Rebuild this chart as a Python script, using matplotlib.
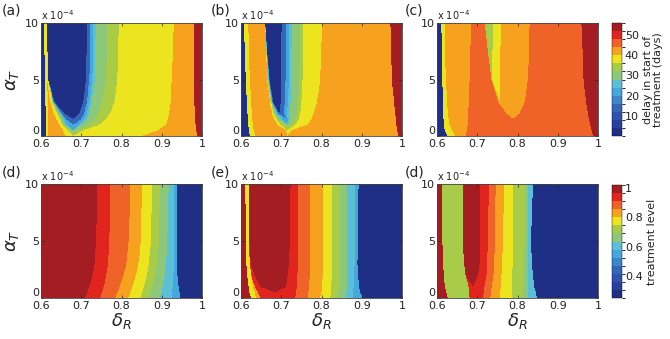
import numpy as np
import matplotlib
matplotlib.use("Agg")
import matplotlib.pyplot as plt
from matplotlib.colors import ListedColormap, BoundaryNorm
from matplotlib.cm import ScalarMappable

# ---------------- data ----------------
# alpha_T key rows (units of 1e-4) at which band boundaries (delta_R) were read
alpha_keys = [0, 0.5, 1, 1.5, 2, 3, 5, 10]

# Panel (a): delay in start of treatment (days); boundaries left->right, value of band to the right
a_start = 2
a_bounds = [
    [0.613, 0.613, 0.613, 0.612, 0.612, 0.611, 0.610, 0.607],
    [0.616, 0.617, 0.617, 0.617, 0.617, 0.617, 0.615, 0.612],
    [0.660, 0.655, 0.645, 0.638, 0.632, 0.623, 0.615, 0.612],
    [0.680, 0.668, 0.652, 0.648, 0.640, 0.628, 0.618, 0.614],
    [0.680, 0.675, 0.655, 0.651, 0.643, 0.629, 0.618, 0.614],
    [0.680, 0.680, 0.660, 0.654, 0.646, 0.630, 0.618, 0.614],
    [0.680, 0.680, 0.665, 0.657, 0.649, 0.631, 0.618, 0.614],
    [0.680, 0.680, 0.680, 0.662, 0.652, 0.632, 0.618, 0.614],
    [0.680, 0.680, 0.680, 0.680, 0.658, 0.634, 0.618, 0.614],
    [0.680, 0.680, 0.680, 0.680, 0.695, 0.705, 0.712, 0.714],
    [0.680, 0.680, 0.680, 0.700, 0.707, 0.714, 0.720, 0.722],
    [0.680, 0.680, 0.695, 0.708, 0.714, 0.720, 0.728, 0.730],
    [0.680, 0.680, 0.700, 0.714, 0.720, 0.726, 0.734, 0.736],
    [0.680, 0.690, 0.720, 0.735, 0.742, 0.752, 0.762, 0.765],
    [0.680, 0.705, 0.745, 0.760, 0.772, 0.782, 0.790, 0.793],
    [0.850, 0.890, 0.910, 0.915, 0.918, 0.922, 0.925, 0.930],
    [0.988, 0.986, 0.984, 0.983, 0.982, 0.981, 0.980, 0.979],
]
a_values = [38, 42, 38, 34, 30, 26, 22, 14, 2, 14, 22, 26, 30, 34, 38, 42, 54]

# Panel (b)
b_start = 2
b_bounds = [
    [0.622, 0.620, 0.618, 0.617, 0.616, 0.614, 0.612, 0.607],
    [0.635, 0.632, 0.630, 0.628, 0.627, 0.625, 0.622, 0.618],
    [0.715, 0.712, 0.690, 0.682, 0.677, 0.672, 0.665, 0.660],
    [0.715, 0.715, 0.698, 0.688, 0.681, 0.674, 0.666, 0.660],
    [0.715, 0.715, 0.712, 0.692, 0.684, 0.675, 0.667, 0.660],
    [0.715, 0.715, 0.715, 0.697, 0.687, 0.676, 0.668, 0.660],
    [0.715, 0.715, 0.715, 0.702, 0.690, 0.677, 0.669, 0.660],
    [0.715, 0.715, 0.715, 0.715, 0.693, 0.678, 0.670, 0.660],
    [0.715, 0.715, 0.715, 0.715, 0.695, 0.680, 0.671, 0.660],
    [0.715, 0.715, 0.715, 0.715, 0.695, 0.699, 0.700, 0.701],
    [0.715, 0.715, 0.715, 0.715, 0.706, 0.709, 0.711, 0.712],
    [0.715, 0.715, 0.715, 0.716, 0.714, 0.717, 0.719, 0.720],
    [0.715, 0.715, 0.715, 0.722, 0.720, 0.723, 0.725, 0.726],
    [0.715, 0.715, 0.722, 0.735, 0.738, 0.742, 0.745, 0.747],
    [0.715, 0.715, 0.735, 0.744, 0.747, 0.750, 0.753, 0.755],
    [0.715, 0.725, 0.765, 0.775, 0.780, 0.789, 0.797, 0.801],
    [0.990, 0.988, 0.986, 0.985, 0.983, 0.980, 0.975, 0.971],
]
b_values = [38, 42, 38, 34, 30, 26, 22, 14, 2, 14, 22, 26, 30, 34, 38, 42, 54]

# Panel (c)
c_start = 2
c_bounds = [
    [0.625, 0.619, 0.617, 0.616, 0.615, 0.614, 0.613, 0.611],
    [0.644, 0.638, 0.631, 0.629, 0.627, 0.625, 0.622, 0.619],
    [0.672, 0.674, 0.676, 0.677, 0.677, 0.679, 0.681, 0.685],
    [0.789, 0.789, 0.789, 0.789, 0.772, 0.752, 0.735, 0.718],
    [0.789, 0.789, 0.789, 0.789, 0.772, 0.757, 0.736, 0.718],
    [0.789, 0.789, 0.789, 0.789, 0.772, 0.757, 0.736, 0.718],
    [0.789, 0.789, 0.789, 0.789, 0.772, 0.757, 0.736, 0.739],
    [0.789, 0.789, 0.789, 0.789, 0.772, 0.757, 0.757, 0.758],
    [0.789, 0.789, 0.789, 0.789, 0.805, 0.818, 0.826, 0.830],
    [0.988, 0.984, 0.980, 0.978, 0.975, 0.970, 0.964, 0.959],
]
c_values = [38, 42, 46, 42, 38, 34, 38, 42, 46, 54]

# Panel (d): treatment level
d_start = 1.0
d_bounds = [
    [0.710, 0.715, 0.720, 0.724, 0.728, 0.733, 0.737, 0.739],
    [0.747, 0.752, 0.756, 0.759, 0.762, 0.766, 0.770, 0.772],
    [0.784, 0.790, 0.795, 0.800, 0.805, 0.812, 0.818, 0.822],
    [0.817, 0.822, 0.827, 0.832, 0.836, 0.842, 0.848, 0.851],
    [0.846, 0.851, 0.856, 0.860, 0.863, 0.868, 0.873, 0.876],
    [0.867, 0.872, 0.877, 0.881, 0.884, 0.889, 0.893, 0.896],
    [0.896, 0.899, 0.902, 0.905, 0.907, 0.911, 0.914, 0.917],
    [0.925, 0.926, 0.927, 0.928, 0.929, 0.930, 0.930, 0.930],
    [0.946, 0.944, 0.942, 0.940, 0.939, 0.938, 0.937, 0.938],
]
d_values = [0.94, 0.88, 0.83, 0.77, 0.72, 0.66, 0.61, 0.55, 0.30]

# Panel (e)
e_start = 1.0
e_bounds = [
    [0.625, 0.621, 0.619, 0.617, 0.615, 0.613, 0.612, 0.611],
    [0.637, 0.634, 0.630, 0.627, 0.625, 0.622, 0.620, 0.619],
    [0.648, 0.642, 0.635, 0.630, 0.625, 0.622, 0.620, 0.619],
    [0.685, 0.685, 0.648, 0.640, 0.634, 0.624, 0.621, 0.619],
    [0.685, 0.685, 0.712, 0.714, 0.716, 0.719, 0.721, 0.723],
    [0.735, 0.737, 0.738, 0.739, 0.740, 0.741, 0.741, 0.741],
    [0.765, 0.767, 0.769, 0.770, 0.771, 0.772, 0.772, 0.772],
    [0.797, 0.799, 0.801, 0.802, 0.803, 0.804, 0.805, 0.805],
    [0.822, 0.823, 0.825, 0.825, 0.826, 0.826, 0.826, 0.826],
    [0.840, 0.842, 0.844, 0.845, 0.846, 0.847, 0.847, 0.847],
    [0.862, 0.862, 0.863, 0.863, 0.863, 0.863, 0.863, 0.863],
    [0.878, 0.879, 0.880, 0.881, 0.881, 0.882, 0.882, 0.882],
    [0.902, 0.896, 0.893, 0.892, 0.891, 0.889, 0.890, 0.892],
]
e_values = [0.77, 0.83, 0.94, 1.0, 0.94, 0.88, 0.83, 0.77, 0.72, 0.66, 0.61, 0.55, 0.30]

# Panel (f) (labelled "(d)" in the original)
f_start = 1.0
f_bounds = [
    [0.627, 0.623, 0.620, 0.618, 0.617, 0.615, 0.613, 0.613],
    [0.681, 0.680, 0.678, 0.675, 0.671, 0.667, 0.665, 0.665],
    [0.690, 0.690, 0.690, 0.680, 0.672, 0.667, 0.665, 0.665],
    [0.690, 0.690, 0.690, 0.696, 0.702, 0.706, 0.706, 0.706],
    [0.714, 0.716, 0.718, 0.720, 0.723, 0.724, 0.727, 0.729],
    [0.732, 0.734, 0.736, 0.738, 0.740, 0.742, 0.744, 0.746],
    [0.756, 0.757, 0.758, 0.759, 0.760, 0.762, 0.764, 0.766],
    [0.785, 0.786, 0.786, 0.787, 0.787, 0.788, 0.789, 0.789],
    [0.814, 0.815, 0.815, 0.816, 0.816, 0.817, 0.818, 0.818],
    [0.826, 0.826, 0.826, 0.826, 0.826, 0.826, 0.826, 0.826],
    [0.848, 0.845, 0.842, 0.840, 0.838, 0.836, 0.834, 0.838],
]
f_values = [0.70, 0.94, 1.0, 0.94, 0.88, 0.83, 0.77, 0.72, 0.66, 0.61, 0.30]

panel_labels = ["(a)", "(b)", "(c)", "(d)", "(e)", "(d)"]
x_ticks = [0.6, 0.7, 0.8, 0.9, 1.0]
x_ticklabels = ["0.6", "0.7", "0.8", "0.9", "1"]
y_ticks = [0, 5, 10]
cb1_ticks = [10, 20, 30, 40, 50]
cb2_ticks = [0.4, 0.6, 0.8, 1.0]
cb2_ticklabels = ["0.4", "0.6", "0.8", "1"]

# ---------------- styling ----------------
colors = ['#202f86', '#283f9e', '#2f52ae', '#3566b9', '#3b86cc', '#44a7dd', '#5bbfd6',
          '#8cc77a', '#a9cc48', '#ece41e', '#f6a21f', '#ef6228', '#e0251f', '#a31d22']
cmap = ListedColormap(colors)
levels_top = np.arange(0, 57, 4)
levels_bot = np.linspace(0.25, 1.02, 15)
norm_top = BoundaryNorm(levels_top, cmap.N)
norm_bot = BoundaryNorm(levels_bot, cmap.N)

dgrid = np.linspace(0.6, 1.0, 600)
agrid = np.linspace(0, 10, 300)


def build(start, bounds, values):
    B = np.array([np.interp(agrid, alpha_keys, b) for b in bounds])
    B = np.maximum.accumulate(B, axis=0)
    idx = (dgrid[None, None, :] >= B[:, :, None]).sum(axis=0)
    vals = np.array([start] + list(values))
    return vals[idx]


panels = [
    (a_start, a_bounds, a_values, norm_top),
    (b_start, b_bounds, b_values, norm_top),
    (c_start, c_bounds, c_values, norm_top),
    (d_start, d_bounds, d_values, norm_bot),
    (e_start, e_bounds, e_values, norm_bot),
    (f_start, f_bounds, f_values, norm_bot),
]

W, H = 670, 339
fig = plt.figure(figsize=(W / 100, H / 100), dpi=100)

col_left = [41, 241, 437]
ax_w = 161
rows = [(23, 136), (184, 298)]
label_x = [2, 211, 405]
label_y = [10, 172]

tc = '#222222'
for i, (start, bounds, values, norm) in enumerate(panels):
    r, c = divmod(i, 3)
    top, bot = rows[r]
    ax = fig.add_axes([col_left[c] / W, 1 - bot / H, ax_w / W, (bot - top) / H])
    Z = build(start, bounds, values)
    ax.pcolormesh(dgrid, agrid, Z, cmap=cmap, norm=norm, shading='auto', rasterized=True)
    ax.set_xlim(0.6, 1.0)
    ax.set_ylim(0, 10)
    ax.set_xticks(x_ticks)
    ax.set_xticklabels(x_ticklabels)
    ax.set_yticks(y_ticks)
    ax.tick_params(direction='in', length=2.5, width=0.5, labelsize=8, colors=tc, pad=1.5,
                   top=True, right=True)
    ax.tick_params(axis='x', pad=2.5)
    ax.get_yticklabels()[0].set_va('bottom')
    for s in ax.spines.values():
        s.set_linewidth(0.6)
        s.set_color('#444444')
    if c == 0:
        ax.set_ylabel(r'$\alpha_T$', fontsize=13, labelpad=3, color=tc)
    if r == 1:
        ax.set_xlabel(r'$\delta_R$', fontsize=13, labelpad=0, color=tc)
    fig.text(col_left[c] / W, 1 - (top - 8) / H, r'x 10$^{-4}$', fontsize=7,
             ha='left', va='center', color=tc)
    fig.text(label_x[c] / W, 1 - label_y[r] / H, panel_labels[i], fontsize=10,
             ha='left', va='center', color=tc)

# colorbars
cax1 = fig.add_axes([612 / W, 1 - 136 / H, 10 / W, 113 / H])
cb1 = fig.colorbar(ScalarMappable(norm=norm_top, cmap=cmap), cax=cax1, ticks=cb1_ticks)
cb1.outline.set_linewidth(0.3)
cb1.ax.tick_params(length=0, labelsize=8, colors=tc, pad=2)
cb1.set_label('delay in start of\ntreatment (days)', fontsize=8, color=tc, labelpad=3,
              linespacing=0.95)

cax2 = fig.add_axes([612 / W, 1 - 298 / H, 10 / W, 113 / H])
cb2 = fig.colorbar(ScalarMappable(norm=norm_bot, cmap=cmap), cax=cax2, ticks=cb2_ticks)
cb2.ax.set_yticklabels(cb2_ticklabels)
cb2.outline.set_linewidth(0.3)
cb2.ax.tick_params(length=0, labelsize=8, colors=tc, pad=2)
cb2.set_label('treatment level', fontsize=8, color=tc, labelpad=3)

fig.savefig('out.png', dpi=100)
